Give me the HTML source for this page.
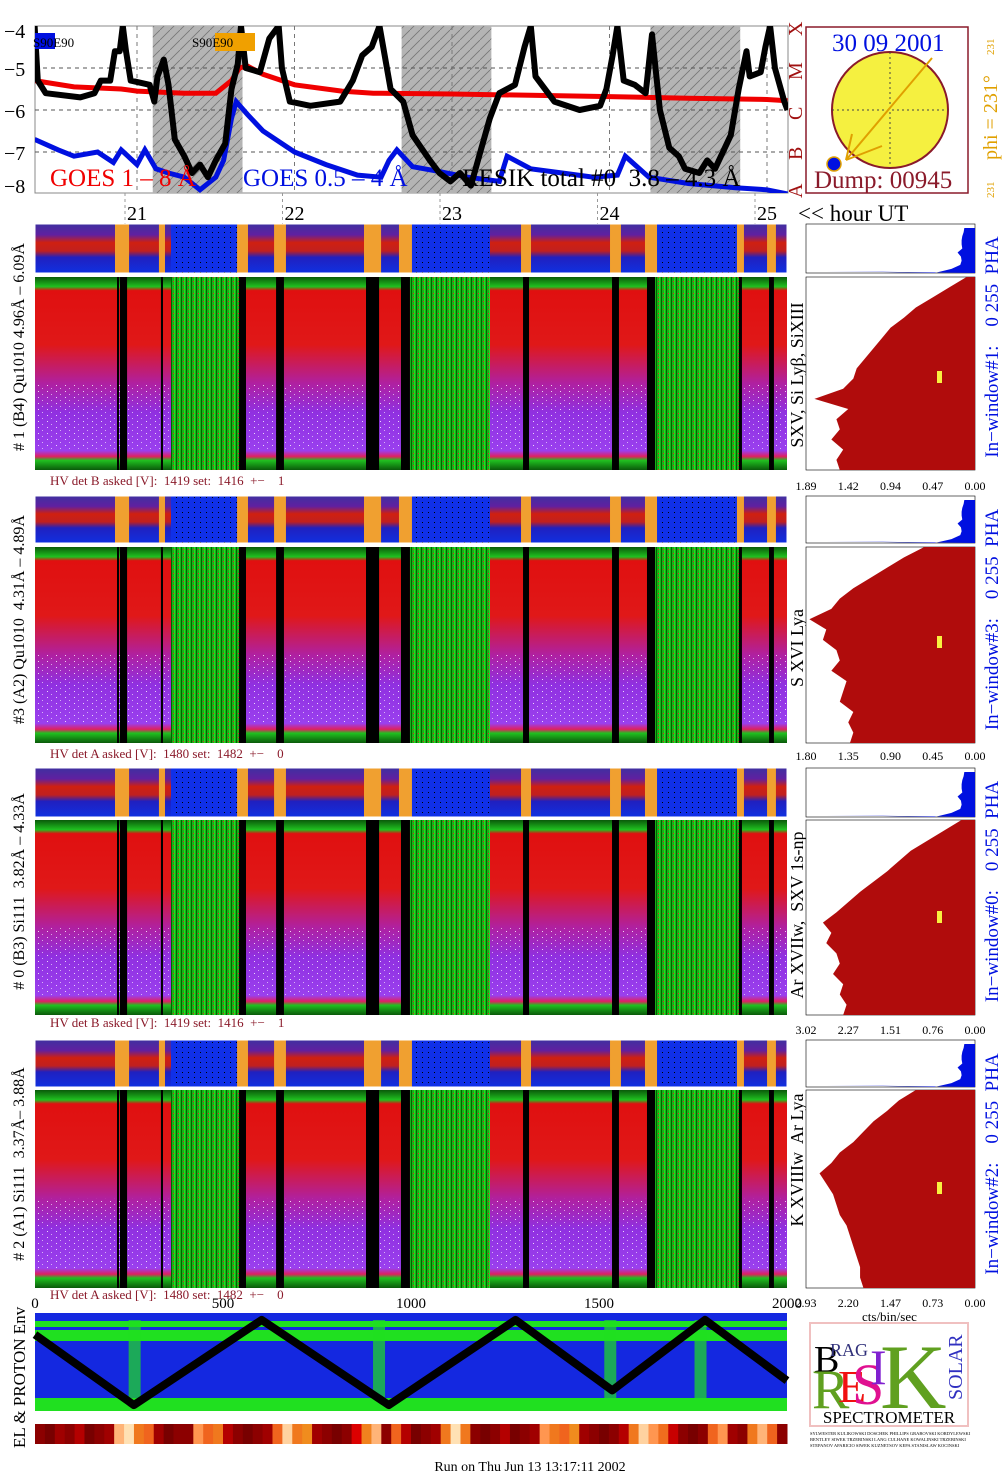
<!DOCTYPE html>
<html><head><meta charset="utf-8"><style>
html,body{margin:0;padding:0;background:#fff;}
svg{display:block;font-family:"Liberation Serif",serif;}
svg text{white-space:pre;}
</style></head><body>
<svg id="s" width="1008" height="1481" viewBox="0 0 1008 1481" xmlns="http://www.w3.org/2000/svg">
<defs>
<pattern id="hatch" width="10" height="10" patternUnits="userSpaceOnUse"><rect width="10" height="10" fill="#b4b4b4"/><path d="M0,10 L10,0" stroke="#777" stroke-width="0.8"/></pattern>
<pattern id="gp" width="5" height="4" patternUnits="userSpaceOnUse"><rect width="5" height="4" fill="#18b018"/><rect x="1" width="1" height="4" fill="#006400"/><rect x="3" y="1" width="1" height="1" fill="#e02020"/><rect x="4" width="1" height="4" fill="#20e020"/></pattern>
<pattern id="bp" width="6" height="5" patternUnits="userSpaceOnUse"><rect width="6" height="5" fill="#1030e8"/><rect x="2" y="2" width="1" height="1" fill="#000"/></pattern>
<pattern id="wp" width="9" height="6" patternUnits="userSpaceOnUse"><rect x="2" y="1" width="1" height="1" fill="#fff" opacity="0.8"/><rect x="6" y="4" width="1" height="1" fill="#fff" opacity="0.6"/></pattern>
<linearGradient id="mg" x1="0" y1="0" x2="0" y2="1">
<stop offset="0" stop-color="#0a5a0a"/><stop offset="0.05" stop-color="#20c020"/><stop offset="0.07" stop-color="#e01010"/><stop offset="0.35" stop-color="#e01818"/><stop offset="0.55" stop-color="#b020a0"/><stop offset="0.7" stop-color="#9030e0"/><stop offset="0.9" stop-color="#9a40ee"/><stop offset="0.93" stop-color="#e02060"/><stop offset="0.95" stop-color="#20c020"/><stop offset="1" stop-color="#0a5a0a"/></linearGradient>
<linearGradient id="tg" x1="0" y1="0" x2="0" y2="1">
<stop offset="0" stop-color="#4030a0"/><stop offset="0.22" stop-color="#6020a0"/><stop offset="0.38" stop-color="#d02010"/><stop offset="0.55" stop-color="#c02020"/><stop offset="0.68" stop-color="#2020c0"/><stop offset="1" stop-color="#1030e0"/></linearGradient>
<clipPath id="gc"><rect x="35" y="26" width="753" height="167"/></clipPath>
</defs>

<g>
<rect x="35" y="26" width="753" height="167" fill="#fff" stroke="#888"/>
<g id="goes"></g>
<g font-size="20">
<text x="4" y="38">−4</text>
<text x="4" y="76">−5</text>
<text x="4" y="118">−6</text>
<text x="4" y="160">−7</text>
<text x="4" y="193">−8</text>
</g>
<rect x="35" y="33" width="20" height="16" fill="#0010e0"/>
<text x="33" y="47" font-size="13">S90E90</text>
<rect x="215" y="33" width="40" height="18" fill="#f0a000"/>
<text x="192" y="47" font-size="13">S90E90</text>
<text x="50" y="186" font-size="25" fill="#f00000">GOES 1 – 8 Å</text>
<text x="243" y="186" font-size="25" fill="#0010e0">GOES 0.5 – 4 Å</text>
<text x="462" y="186" font-size="25" fill="#000">RESIK total #0  3.8 – 4.3 Å</text>
<g fill="#a01010" font-size="20">
<text transform="translate(802,36) rotate(-90)">X</text>
<text transform="translate(802,80) rotate(-90)">M</text>
<text transform="translate(802,120) rotate(-90)">C</text>
<text transform="translate(802,160) rotate(-90)">B</text>
<text transform="translate(802,198) rotate(-90)">A</text>
</g>
<g font-size="20" id="hours"></g>
<text x="798" y="221" font-size="23">&lt;&lt; hour UT</text>
</g>

<g>
<rect x="806" y="27" width="162" height="166" fill="#fff" stroke="#8a1a2a" stroke-width="1.5"/>
<circle cx="890" cy="110" r="58" fill="#f5f040" stroke="#8a1a2a" stroke-width="2"/>
<line x1="832" y1="110" x2="948" y2="110" stroke="#444" stroke-dasharray="2,3"/>
<line x1="890" y1="52" x2="890" y2="168" stroke="#444" stroke-dasharray="2,3"/>
<line x1="932" y1="58" x2="846" y2="160" stroke="#e0a000" stroke-width="2"/>
<line x1="846" y1="160" x2="882" y2="146" stroke="#e0a000" stroke-width="2"/>
<line x1="846" y1="160" x2="852" y2="134" stroke="#e0a000" stroke-width="2"/>
<circle cx="834" cy="164" r="7" fill="#0010e0" stroke="#e0a000" stroke-width="1.5"/>
<text x="832" y="51" font-size="25" fill="#0010e0">30 09 2001</text>
<text x="814" y="188" font-size="25" fill="#8a1a2a">Dump: 00945</text>
<text transform="translate(997,160) rotate(-90)" font-size="20" fill="#e0a000">phi = 231°</text>
<text transform="translate(994,55) rotate(-90)" font-size="11" fill="#e0a000">231</text>
<text transform="translate(994,198) rotate(-90)" font-size="11" fill="#e0a000">231</text>
</g>

<g id="spectra"></g>

<g font-size="15">
<text x="35" y="1308" text-anchor="middle">0</text>
<text x="223" y="1308" text-anchor="middle">500</text>
<text x="411" y="1308" text-anchor="middle">1000</text>
<text x="599" y="1308" text-anchor="middle">1500</text>
<text x="787" y="1308" text-anchor="middle">2000</text>
<text x="862" y="1321" font-size="13">cts/bin/sec</text>
</g>

<g id="env"></g>
<text transform="translate(25,1448) rotate(-90)" font-size="17">EL &amp; PROTON Env</text>

<g>
<rect x="810" y="1323" width="158" height="103" fill="#fff" stroke="#f0c0c0" stroke-width="2"/>
<text x="814" y="1372" font-size="38" fill="#000">B</text>
<text x="830" y="1356" font-size="18" fill="#30307a">RAG</text>
<text x="812" y="1408" font-size="56" fill="#60a020">R</text>
<text x="838" y="1402" font-size="46" fill="#f01010">E</text>
<text x="852" y="1404" font-size="58" fill="#e01090">S</text>
<text x="870" y="1384" font-size="50" fill="#8020d0">I</text>
<text x="880" y="1408" font-size="92" fill="#60a020">K</text>
<text transform="translate(962,1400) rotate(-90)" font-size="20" fill="#3030c0">SOLAR</text>
<text x="889" y="1423" font-size="17" text-anchor="middle">SPECTROMETER</text>
<g font-size="4.5">
<text x="810" y="1435">SYLWESTER KULIKOWSKI DOSCHEK PHILLIPS GRABOVSKI KORDYLEWSKI</text>
<text x="810" y="1441">BENTLEY SIWEK TRZEBINSKI LANG CULHANE KOWALINSKI TRZEBINSKI</text>
<text x="810" y="1447">STEPANOV APARICIO SIWEK KUZNETSOV KEPA STANISLAW KOCINSKI</text>
</g>
</g>
<text x="530" y="1471" font-size="14" text-anchor="middle">Run on Thu Jun 13 13:17:11 2002</text>
</svg>
<script>
const NS="http://www.w3.org/2000/svg";
// ---------- data ----------
const hourTicks=[21,22,23,24,25];
const eclipseStart=[21.10,22.68,24.26];
const eclipseEnd=[21.67,23.25,24.83];
const goesLongT=[20.35,20.6,20.9,21.0,21.3,21.5,21.6,21.65,21.7,21.8,22.0,22.3,22.5,23.0,23.5,24.0,24.5,25.0,25.13];
const goesLongV=[-5.3,-5.45,-5.5,-5.55,-5.6,-5.6,-5.3,-5.0,-4.95,-5.15,-5.4,-5.55,-5.6,-5.62,-5.65,-5.68,-5.72,-5.75,-5.78];
const goesShortT=[20.35,20.5,20.6,20.75,20.85,20.9,21.0,21.05,21.12,21.2,21.3,21.4,21.5,21.55,21.6,21.63,21.7,21.8,22.0,22.2,22.4,22.55,22.6,22.65,22.75,22.9,23.1,23.3,23.35,23.5,23.7,23.9,24.05,24.1,24.25,24.5,24.8,25.0,25.13];
const goesShortV=[-6.7,-6.95,-7.1,-7.0,-7.25,-6.95,-7.3,-6.95,-7.4,-7.5,-7.6,-7.9,-7.6,-7.2,-6.2,-5.8,-6.1,-6.5,-7.0,-7.3,-7.55,-7.6,-7.2,-6.95,-7.35,-7.45,-7.6,-7.7,-7.1,-7.4,-7.5,-7.6,-7.55,-7.1,-7.6,-7.75,-7.85,-7.9,-8.0];
const resikT=[20.35,20.37,20.42,20.64,20.73,20.77,20.83,20.86,20.89,20.91,20.93,20.96,21.08,21.11,21.13,21.17,21.20,21.24,21.30,21.35,21.40,21.45,21.50,21.56,21.60,21.64,21.66,21.69,21.78,21.84,21.90,21.92,21.97,22.10,22.29,22.37,22.43,22.49,22.54,22.61,22.69,22.75,22.86,22.92,22.99,23.05,23.12,23.18,23.24,23.30,23.40,23.46,23.50,23.53,23.65,23.81,23.94,23.98,24.02,24.05,24.09,24.16,24.23,24.27,24.32,24.38,24.44,24.48,24.57,24.62,24.67,24.77,24.82,24.87,24.89,24.96,24.99,25.02,25.05,25.11,25.13];
const resikV=[-4.0,-5.3,-5.6,-5.7,-5.6,-5.3,-5.3,-4.6,-4.6,-4.0,-4.6,-5.3,-5.4,-5.8,-5.2,-4.8,-5.4,-6.7,-7.1,-7.5,-7.3,-7.6,-7.2,-6.8,-5.5,-4.9,-4.0,-5.0,-5.1,-4.3,-4.0,-5.0,-5.8,-5.9,-5.8,-5.3,-4.7,-4.5,-4.0,-5.5,-5.8,-6.6,-7.2,-7.5,-7.7,-7.5,-7.8,-7.0,-6.2,-5.6,-5.4,-4.5,-4.0,-5.2,-5.8,-6.0,-5.9,-5.5,-4.7,-4.0,-5.3,-5.4,-5.6,-4.2,-6.0,-6.9,-7.1,-7.4,-7.5,-7.2,-7.4,-6.6,-5.5,-4.6,-5.2,-5.1,-4.5,-4.0,-5.0,-5.8,-6.0];
const gapStart=[20.873,20.892,21.152,21.648,21.883,22.454,22.676,23.451,24.016,24.238,24.822,25.013];
const gapEnd=[20.879,20.937,21.165,21.692,21.933,22.537,22.733,23.489,24.060,24.289,24.841,25.044];
const flareStart=[21.216,22.733,24.289];
const flareEnd=[21.648,23.241,24.822];
const hist1=[0.05,0.15,0.25,0.35,0.42,0.5,0.55,0.6,0.65,0.7,0.72,0.78,0.95,0.75,0.82,0.8,0.85,0.78,0.82,0.8];
const hist2=[0.3,0.42,0.52,0.62,0.72,0.8,0.85,0.98,0.88,0.9,0.82,0.8,0.85,0.76,0.78,0.8,0.72,0.75,0.72,0.74];
const hist3=[0.08,0.18,0.28,0.38,0.45,0.52,0.6,0.68,0.75,0.82,0.9,0.85,0.88,0.82,0.8,0.84,0.78,0.8,0.76,0.78];
const hist4=[0.35,0.45,0.52,0.6,0.66,0.72,0.8,0.85,0.92,0.88,0.84,0.82,0.8,0.76,0.74,0.72,0.7,0.68,0.68,0.66];
const pha=[0.02,0.04,0.08,0.1,0.1,0.08,0.22,0.12,0.1,0.14,0.4,0.9];
const histTicks1=["1.89","1.42","0.94","0.47","0.00"];
const histTicks2=["1.80","1.35","0.90","0.45","0.00"];
const histTicks3=["3.02","2.27","1.51","0.76","0.00"];
const histTicks4=["2.93","2.20","1.47","0.73","0.00"];
const orbitX=[0,263,603,941,1278,1535,1782,2000];
const orbitV=[78,6,93,6,93,21,93,31];
const plumeX=[265,915,1530,1770];
const heat=[0.9,0.95,0.85,0.9,0.8,0.95,0.9,0.85,0.2,0.05,0.5,0.6,0.85,0.95,0.9,0.9,0.3,0.6,0.5,0.8,0.9,0.95,0.9,0.85,0.6,0.1,0.5,0.4,0.85,0.9,0.95,0.9,0.7,0.45,0.2,0.9,0.6,0.8,0.95,0.9,0.85,0.5,0.05,0.5,0.9,0.95,0.9,0.8,0.95,0.9,0.85,0.3,0.5,0.6,0.4,0.85,0.9,0.95,0.9,0.8,0.5,0.1,0.3,0.55,0.75,0.9,0.95,0.9,0.6,0.3,0.85,0.9,0.5,0.2,0.6,0.9];
// ---------- helpers ----------
const X=h=>137+(h-21)*157.5;
const GY=v=>26+(-4-v)*42;
function mk(tag,attrs,parent){const e=document.createElementNS(NS,tag);for(const k in attrs)e.setAttribute(k,attrs[k]);parent.appendChild(e);return e;}
function poly(T,V,fx,fy){return T.map((t,i)=>fx(t).toFixed(1)+","+fy(V[i]).toFixed(1)).join(" ");}
// ---------- GOES ----------
const g=document.getElementById("goes");
const gi=mk("g",{"clip-path":"url(#gc)"},g);
for(let i=0;i<eclipseStart.length;i++){
 const r=mk("rect",{x:X(eclipseStart[i]),y:26,width:X(eclipseEnd[i])-X(eclipseStart[i]),height:167,fill:"url(#hatch)"},gi);
 
 
}
[-5,-6,-7].forEach(v=>{const l=mk("line",{x1:35,x2:788,y1:GY(v),y2:GY(v),stroke:"#555","stroke-dasharray":"4,4"},gi);
 
 });
hourTicks.forEach(h=>{const l=mk("line",{x1:X(h),x2:X(h),y1:26,y2:193,stroke:"#777","stroke-dasharray":"4,4"},gi);
 
 });
const lr=mk("polyline",{points:poly(goesLongT,goesLongV,X,GY),fill:"none",stroke:"#f00000","stroke-width":5},gi);


const ls=mk("polyline",{points:poly(goesShortT,goesShortV,X,GY),fill:"none",stroke:"#0010e0","stroke-width":5},gi);


const lk=mk("polyline",{points:poly(resikT,resikV,X,GY),fill:"none",stroke:"#000","stroke-width":6,"stroke-linejoin":"round"},gi);


const hg=document.getElementById("hours");
hourTicks.forEach(h=>{const t=mk("text",{x:X(h),y:220,"text-anchor":"middle"},hg);t.textContent=h;
 
 
 const l=mk("line",{x1:X(h)-12,x2:X(h)-12,y1:193,y2:224,stroke:"#999","stroke-dasharray":"3,3"},hg);
 
 });
// ---------- spectra ----------
const panels=[
 {t:224,tb:273,m:277,mb:470,hv:"HV det B asked [V]:  1419 set:  1416  +−    1",hvy:485,left:"# 1 (B4) Qu1010 4.96Å – 6.09Å",lines:"SXV, Si Lyβ, SiXIII",lc:375,win:"In−window#1:    0 255  PHA",hist:hist1,ticks:histTicks1,ty:490,yel:371},
 {t:496,tb:543,m:547,mb:743,hv:"HV det A asked [V]:  1480 set:  1482  +−    0",hvy:758,left:"#3 (A2) Qu1010  4.31Å – 4.89Å",lines:"S XVI Lya",lc:648,win:"In−window#3:    0 255  PHA",hist:hist2,ticks:histTicks2,ty:760,yel:636},
 {t:768,tb:817,m:820,mb:1015,hv:"HV det B asked [V]:  1419 set:  1416  +−    1",hvy:1027,left:"# 0 (B3) Si111  3.82Å – 4.33Å",lines:"Ar XVIIw,  SXV 1s-np",lc:915,win:"In−window#0:    0 255  PHA",hist:hist3,ticks:histTicks3,ty:1034,yel:911},
 {t:1040,tb:1087,m:1090,mb:1288,hv:"HV det A asked [V]:  1480 set:  1482  +−    0",hvy:1299,left:"# 2 (A1) Si111  3.37Å– 3.88Å",lines:"K XVIIIw  Ar Lya",lc:1160,win:"In−window#2:    0 255  PHA",hist:hist4,ticks:histTicks4,ty:1307,yel:1182}
];
const sp=document.getElementById("spectra");
const L=35,R=787;
panels.forEach((p,pi)=>{
 const pg=mk("g",{},sp);
 
 
 const ts=mk("rect",{x:L,y:p.t,width:R-L,height:p.tb-p.t,fill:"url(#tg)"},pg);
 
 
 for(let i=0;i<flareStart.length;i++){
  const b=mk("rect",{x:X(flareStart[i]),y:p.t,width:X(flareEnd[i])-X(flareStart[i]),height:p.tb-p.t,fill:"url(#bp)"},pg);
  
  
 }
 const mr=mk("rect",{x:L,y:p.m,width:R-L,height:p.mb-p.m,fill:"url(#mg)"},pg);
 
 
 const sk=mk("rect",{x:L,y:p.m+(p.mb-p.m)*0.55,width:R-L,height:(p.mb-p.m)*0.35,fill:"url(#wp)"},pg);
 
 
 for(let i=0;i<flareStart.length;i++){
  const b=mk("rect",{x:X(flareStart[i]),y:p.m,width:X(flareEnd[i])-X(flareStart[i]),height:p.mb-p.m,fill:"url(#gp)"},pg);
  
  
 }
 for(let i=0;i<gapStart.length;i++){
  const w=Math.max(2,X(gapEnd[i])-X(gapStart[i]));
  const o=mk("rect",{x:X(gapStart[i])-2,y:p.t,width:w+4,height:p.tb-p.t,fill:"#f0a030"},pg);
  
  
  const b=mk("rect",{x:X(gapStart[i]),y:p.m,width:w,height:p.mb-p.m,fill:"#000"},pg);
  
  
 }
 const fr=mk("rect",{x:L,y:p.t,width:R-L,height:p.tb-p.t,fill:"none",stroke:"#fff"},pg);
 
 
 const hv=mk("text",{x:50,y:p.hvy,"font-size":13,fill:"#8a1a2a"},pg);hv.textContent=p.hv;
 
 
 const lt=mk("text",{transform:`translate(24,${(p.t+p.mb)/2}) rotate(-90)`,"font-size":16,"text-anchor":"middle"},pg);lt.textContent=p.left;
 
 
 const ln=mk("text",{transform:`translate(803,${p.lc}) rotate(-90)`,"font-size":18,"text-anchor":"middle"},pg);ln.textContent=p.lines;
 
 
 const wn=mk("text",{transform:`translate(998,${(p.t+p.mb)/2}) rotate(-90)`,"font-size":19,"text-anchor":"middle",fill:"#0010e0"},pg);wn.textContent=p.win;
 
 
 const hx0=806,hx1=975;
 const pf=mk("rect",{x:hx0,y:p.t,width:hx1-hx0,height:p.tb-p.t,fill:"#fff",stroke:"#000","stroke-width":0.6},pg);
 
 
 const ph=p.tb-p.t;let pts=`${hx1},${p.t+4} `;
 pha.forEach((v,i)=>{pts+=`${hx1-v*(hx1-hx0)*0.2-10},${p.t+4+i*(ph-4)/(pha.length-1)} `;});
 pts+=`${hx0+20},${p.tb-2} ${hx1},${p.tb}`;
 const pp=mk("polygon",{points:pts,fill:"#0010e0"},pg);
 
 
 const hf=mk("rect",{x:hx0,y:p.m,width:hx1-hx0,height:p.mb-p.m,fill:"#fff",stroke:"#000","stroke-width":0.6},pg);
 
 
 const hh=p.mb-p.m;let hp=`${hx1},${p.m} `;
 p.hist.forEach((v,i)=>{const y=p.m+i*hh/(p.hist.length-1);hp+=`${hx1-v*(hx1-hx0)},${y} `;});
 hp+=`${hx1},${p.mb}`;
 const hpp=mk("polygon",{points:hp,fill:"#b00c0c"},pg);
 
 
 const ye=mk("rect",{x:937,y:p.yel,width:5,height:12,fill:"#f8f040"},pg);
 
 
 p.ticks.forEach((tk,i)=>{const t=mk("text",{x:hx0+i*(hx1-hx0)/4,y:p.ty,"font-size":12,"text-anchor":"middle"},pg);t.textContent=tk;
  
  });
});
// ---------- env ----------
const env=document.getElementById("env");
const EX=v=>35+v/2000*752, EY=v=>1411-v/100*98;
const eb=mk("rect",{x:35,y:1313,width:752,height:98,fill:"#1428e0"},env);


const eg1=mk("rect",{x:35,y:1321,width:752,height:20,fill:"#20e020"},env);


const eg0=mk("rect",{x:35,y:1327,width:752,height:3,fill:"#1428e0"},env);


const eg2=mk("rect",{x:35,y:1398,width:752,height:13,fill:"#20e020"},env);


plumeX.forEach(v=>{const r=mk("rect",{x:EX(v)-6,y:1320,width:12,height:80,fill:"#20e020",opacity:0.7},env);
 
 });
const zz=mk("polyline",{points:poly(orbitX,orbitV,EX,EY),fill:"none",stroke:"#000","stroke-width":8,"stroke-linejoin":"round"},env);


const sw=752/heat.length;
heat.forEach((v,i)=>{const c=v<0.35?`rgb(255,${240-v*300|0},${200-v*400|0})`:v<0.7?`rgb(240,${Math.round(150-(v-0.35)*200)},30)`:`rgb(${Math.round(220-(v-0.7)*400)},0,0)`;
 const r=mk("rect",{x:35+i*sw,y:1424,width:sw+0.5,height:20,fill:c},env);
 
 });
</script>
</body></html>
